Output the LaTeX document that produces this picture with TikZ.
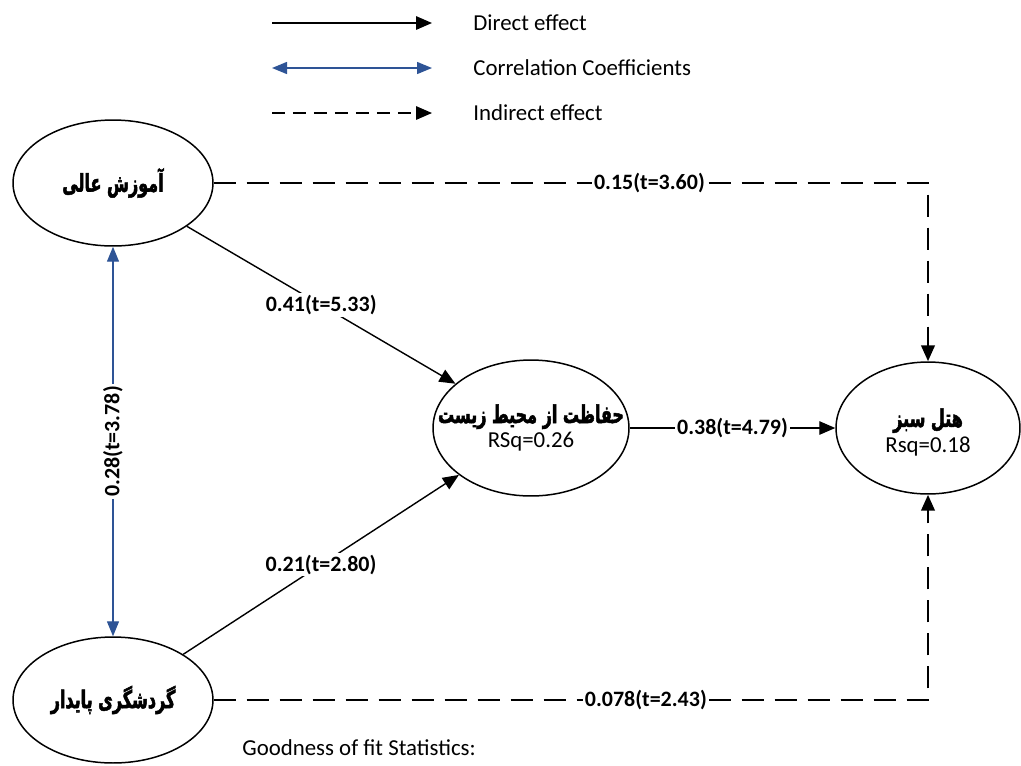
\documentclass[tikz,border=0pt]{standalone}
\usepackage{fontspec}
\setmainfont{Carlito}
\newfontfamily\farsifont[Script=Arabic, FakeStretch=0.65, FakeBold=2]{DejaVu Sans}
\TeXXeTstate=1
\usetikzlibrary{shapes.geometric, arrows.meta, calc}
\definecolor{corrblue}{RGB}{46,84,150}

\begin{document}
\begin{tikzpicture}[x=0.02cm, y=-0.02cm,
  latent/.style={ellipse, draw, line width=0.85pt, inner sep=0pt},
  tip/.style={-{Triangle[length=0.32cm,width=0.27cm]}},
  direct/.style={line width=0.8pt, tip},
  corr/.style={corrblue, line width=0.8pt, {Triangle[length=0.3cm,width=0.24cm]}-{Triangle[length=0.3cm,width=0.24cm]}},
  indirect/.style={line width=1.5pt, dash pattern=on 0.44cm off 0.22cm, tip},
  legdash/.style={line width=0.8pt, dash pattern=on 0.26cm off 0.16cm, tip},
  coef/.style={fill=white, text=black, inner sep=1pt, font=\fontsize{12.5}{15}\selectfont\bfseries},
  legtext/.style={anchor=west, inner sep=0pt, font=\fontsize{13}{15}\selectfont},
  fa/.style={font=\fontsize{14}{16}\selectfont\farsifont\bfseries},
  inner/.style={align=center, inner sep=0pt}]
\useasboundingbox (0,0) rectangle (1021,765);

% legend
\foreach \i/\y/\sty/\txt in {1/23/direct/Direct effect, 2/68/corr/Correlation Coefficients, 3/113/legdash/Indirect effect} {
  \coordinate (leg\i a) at (272,\y);
  \coordinate (leg\i b) at (432,\y);
  \draw[\sty] (leg\i a) -- (leg\i b);
  \node[legtext] (legtxt\i) at (473,\y) {\txt};
}

% constructs
\node[latent, minimum width=4cm, minimum height=2.52cm] (edu) at (113,183) {};
\node[latent, minimum width=4cm, minimum height=2.52cm] (tour) at (113,700) {};
\node[latent, minimum width=3.92cm, minimum height=2.72cm] (env) at (531,428) {};
\node[latent, minimum width=3.68cm, minimum height=2.64cm] (hotel) at (928,428) {};

\node[fa, inner sep=0pt] (eduTxt) at (edu) {\beginR آموزش عالی\endR};
\node[fa, inner sep=0pt] (tourTxt) at (tour) {\beginR گردشگری پایدار\endR};
\node[inner] (envTxt) at (env) {{\fontsize{14}{16}\selectfont\farsifont\bfseries\beginR حفاظت از محیط زیست\endR}\\[1pt]{\fontsize{13}{15}\selectfont RSq=0.26}};
\node[inner] (hotelTxt) at ($(hotel)+(0,4)$) {{\fontsize{14}{16}\selectfont\farsifont\bfseries\beginR هتل سبز\endR}\\[1pt]{\fontsize{13}{15}\selectfont Rsq=0.18}};

% paths
\draw[direct] (edu) -- node[coef] (wEduEnv) {0.41(t=5.33)} (env);
\draw[direct] (tour) -- node[coef] (wTourEnv) {0.21(t=2.80)} (env);
\draw[direct] (env) -- node[coef] (wEnvHotel) {0.38(t=4.79)} (hotel);
\draw[corr] (edu) -- node[coef, rotate=90] (wCorr) {0.28(t=3.78)} (tour);

\coordinate (topc) at (hotel.north |- edu.east);
\coordinate (botc) at (hotel.south |- tour.east);
\draw[indirect] (edu) -- node[coef, pos=0.61] (wEduHotel) {0.15(t=3.60)} (topc) -- (hotel);
\draw[indirect] (tour) -- node[coef, pos=0.605] (wTourHotel) {0.078(t=2.43)} (botc) -- (hotel);

\node[legtext] (gof) at (242,748) {Goodness of fit Statistics:};
\end{tikzpicture}
\end{document}
